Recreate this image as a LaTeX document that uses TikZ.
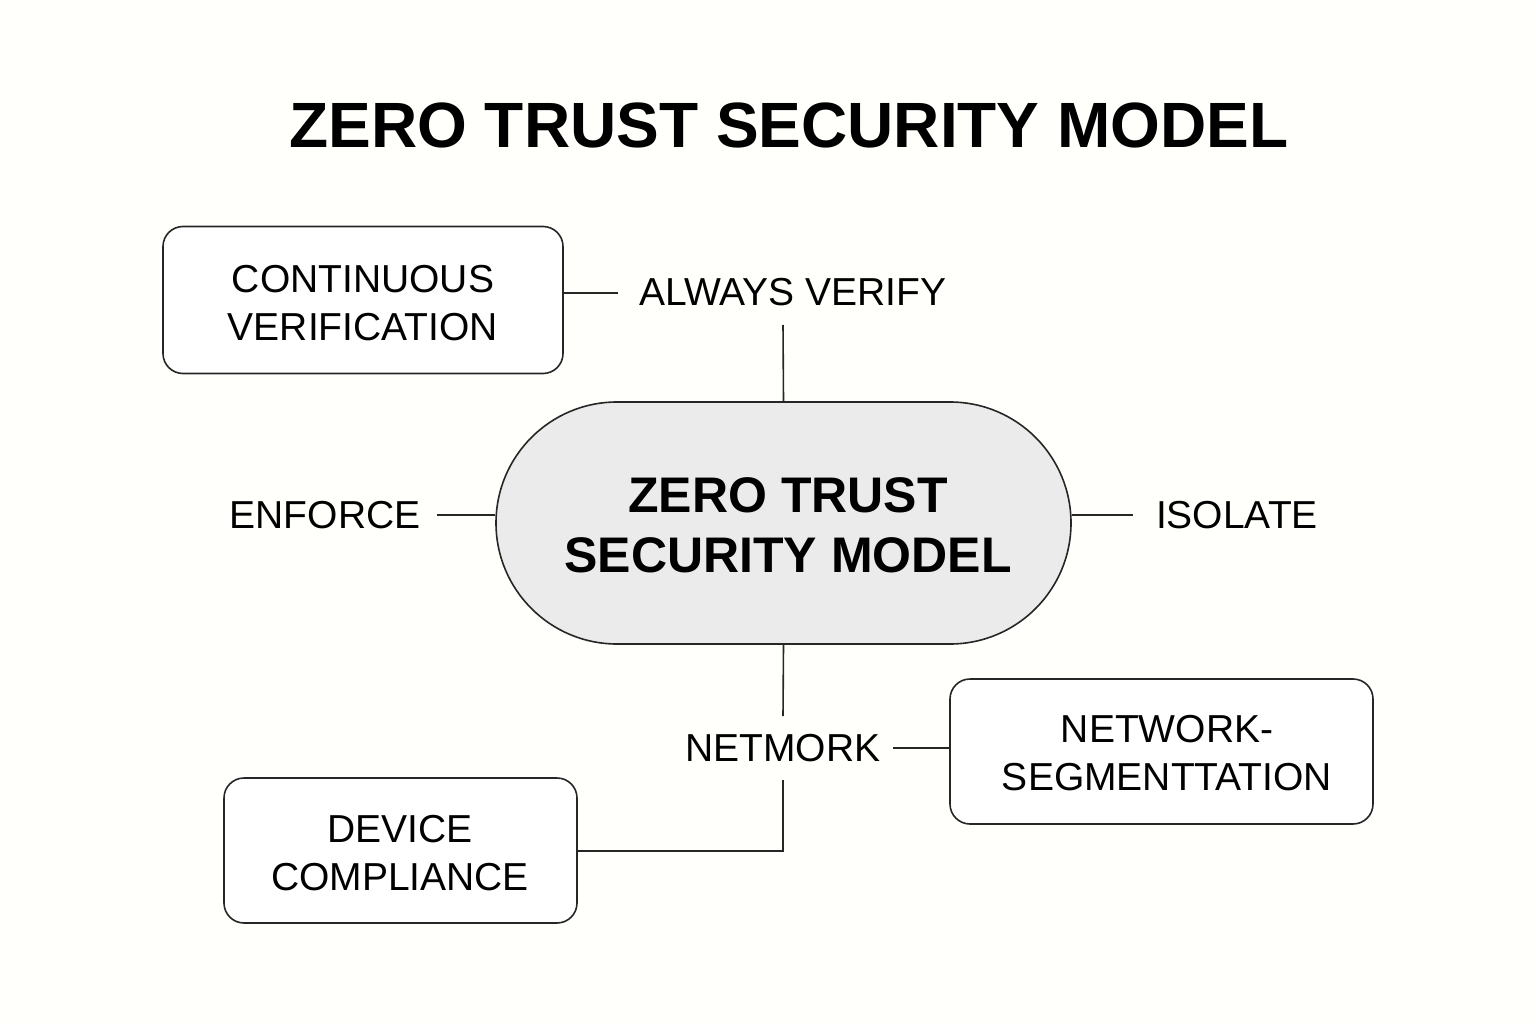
\documentclass[tikz,border=0pt]{standalone}
\usepackage{fontspec}
\setmainfont{Liberation Sans}
\begin{document}
\begin{tikzpicture}[x=1pt,y=-1pt,
  box/.style={draw=black!85,line width=1.6pt,rounded corners=20pt,fill=white},
  lbl/.style={font=\fontsize{39}{44}\selectfont,align=center,inner sep=0pt},
  ln/.style={draw=black!85,line width=1.6pt}]
\fill[white!97!yellow!40] (0,0) rectangle (1536,1024);
\useasboundingbox (0,0) rectangle (1536,1024);
\node[font=\fontsize{64}{70}\selectfont\bfseries,inner sep=0pt] (title) at (789,125) {ZERO TRUST SECURITY MODEL};
\node[box,minimum width=400pt,minimum height=147pt] (cv) at (363,300) {};
\node[lbl] at (363,303) {CONTINUOUS\\[4pt]VERIFICATION};
\node[lbl] (av) at (793,292) {ALWAYS VERIFY};
\node[draw=black!85,line width=1.6pt,fill=black!8,rounded corners=121pt,minimum width=575pt,minimum height=242pt] (c) at (783.5,523) {};
\node[font=\fontsize{50}{60}\selectfont\bfseries,align=center,inner sep=0pt] at (788,525) {ZERO TRUST\\SECURITY MODEL};
\node[lbl] (en) at (325,515) {ENFORCE};
\node[lbl] (is) at (1237,515) {ISOLATE};
\node[lbl] (nw) at (783,748) {NETMORK};
\node[box,minimum width=423pt,minimum height=145pt] (ns) at (1161.5,751.5) {};
\node[lbl] at (1167,753) {NETWORK-\\[4pt]SEGMENTTATION};
\node[box,minimum width=353pt,minimum height=145pt] (dc) at (400.5,850.5) {};
\node[lbl] at (400,853) {DEVICE\\[4pt]COMPLIANCE};
\coordinate (k) at (783,851);
\coordinate (e1) at (437,515);
\coordinate (i1) at (1133,515);
\coordinate (n1) at (893,748);
\draw[ln] (cv.east |- 0,293) -- (618,293);
\draw[ln] (783,325) -- (c.north);
\draw[ln] (e1) -- (c.west |- e1);
\draw[ln] (c.east |- i1) -- (i1);
\draw[ln] (c.south) -- (783,716);
\draw[ln] (n1) -- (ns.west |- n1);
\draw[ln] (783,780) -- (k) -- (dc.east |- k);
\end{tikzpicture}
\end{document}
